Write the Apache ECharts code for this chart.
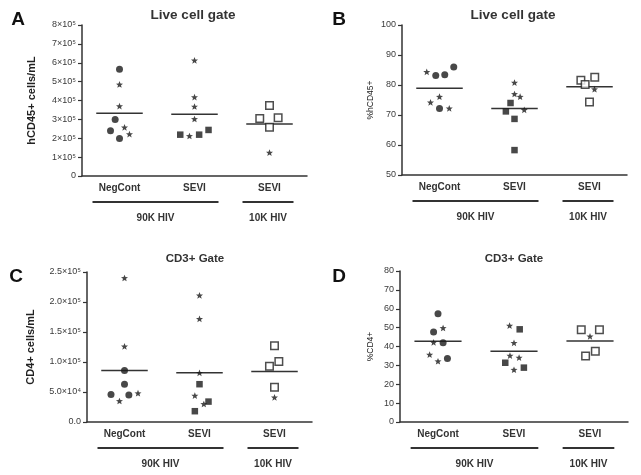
<!DOCTYPE html>
<html><head><meta charset="utf-8">
<script src="https://cdn.jsdelivr.net/npm/echarts@6/dist/echarts.min.js"></script>
<style>html,body{margin:0;padding:0;background:#fff}#c{width:641px;height:475px}</style>
</head><body><div id="c"></div>
<script>
// ---------- data ----------
const categories = ['NegCont', 'SEVI', 'SEVI'];
const groupNames = ['90K HIV', '10K HIV'];
const groupSpans = [[0, 1], [2, 2]];
const panelLetters = ['A', 'B', 'C', 'D'];
const panelTitles = ['Live cell gate', 'Live cell gate', 'CD3+ Gate', 'CD3+ Gate'];
const yNames = ['hCD45+ cells/mL', '%hCD45+', 'CD4+ cells/mL', '%CD4+'];
const yMin = [0, 50, 0, 0];
const yMax = [800000, 100, 250000, 80];
const yStep = [100000, 10, 50000, 10];

// Panel A (points: [category index, value]) + horizontal jitter in category units
const A_circle = [[0, 565000], [0, 300000], [0, 240000], [0, 199000]];
const A_circle_dx = [0, -0.058, -0.12, 0];
const A_star = [[0, 485000], [0, 370000], [0, 258000], [0, 222000], [1, 613000], [1, 418000], [1, 368000], [1, 302000], [1, 212000], [2, 124000]];
const A_star_dx = [0, 0, 0.067, 0.133, 0, 0, 0, 0, -0.067, 0];
const A_square = [[1, 219000], [1, 219000], [1, 244000]];
const A_square_dx = [-0.19, 0.062, 0.187];
const A_open = [[2, 373000], [2, 304000], [2, 308000], [2, 258000]];
const A_open_dx = [0, -0.13, 0.115, 0];
const A_means = [332000, 327000, 276000];

// Panel B
const B_circle = [[0, 83.2], [0, 83.4], [0, 86.0], [0, 72.2]];
const B_circle_dx = [-0.05, 0.07, 0.19, 0];
const B_star = [[0, 84.4], [0, 76.1], [0, 74.2], [0, 72.2], [1, 80.8], [1, 77.0], [1, 76.1], [1, 71.7], [2, 78.6]];
const B_star_dx = [-0.17, 0, -0.12, 0.13, 0, 0, 0.075, 0.13, 0.067];
const B_square = [[1, 74.0], [1, 71.2], [1, 68.7], [1, 58.3]];
const B_square_dx = [-0.053, -0.115, 0, 0];
const B_open = [[2, 81.6], [2, 82.6], [2, 80.2], [2, 74.3]];
const B_open_dx = [-0.115, 0.07, -0.058, 0];
const B_means = [78.9, 72.2, 79.4];

// Panel C
const C_circle = [[0, 86000], [0, 63000], [0, 46000], [0, 45000]];
const C_circle_dx = [0, 0, -0.18, 0.058];
const C_star = [[0, 240000], [0, 126000], [0, 35000], [0, 48000], [1, 211000], [1, 172000], [1, 82000], [1, 44000], [1, 30000], [2, 41000]];
const C_star_dx = [0, 0, -0.067, 0.18, 0, 0, 0, -0.062, 0.058, 0];
const C_square = [[1, 63000], [1, 18000], [1, 34000]];
const C_square_dx = [0, -0.062, 0.12];
const C_open = [[2, 127000], [2, 101000], [2, 93000], [2, 58000]];
const C_open_dx = [0, 0.058, -0.067, 0];
const C_means = [86000, 82000, 84000];

// Panel D
const D_circle = [[0, 57.4], [0, 47.7], [0, 42.0], [0, 33.6]];
const D_circle_dx = [0, -0.058, 0.067, 0.124];
const D_star = [[0, 49.8], [0, 42.2], [0, 35.7], [0, 32.2], [1, 51.1], [1, 41.9], [1, 35.2], [1, 34.1], [1, 27.7], [2, 45.4]];
const D_star_dx = [0.067, -0.058, -0.11, 0, -0.058, 0, -0.053, 0.067, 0, 0];
const D_square = [[1, 49.1], [1, 31.4], [1, 28.8]];
const D_square_dx = [0.075, -0.115, 0.13];
const D_open = [[2, 48.9], [2, 48.9], [2, 37.5], [2, 35.0]];
const D_open_dx = [-0.115, 0.124, 0.07, -0.058];
const D_means = [42.8, 37.5, 42.9];

// ---------- layout / style ----------
const panels = [
  {circle: [A_circle, A_circle_dx], star: [A_star, A_star_dx], square: [A_square, A_square_dx], open: [A_open, A_open_dx], means: A_means},
  {circle: [B_circle, B_circle_dx], star: [B_star, B_star_dx], square: [B_square, B_square_dx], open: [B_open, B_open_dx], means: B_means},
  {circle: [C_circle, C_circle_dx], star: [C_star, C_star_dx], square: [C_square, C_square_dx], open: [C_open, C_open_dx], means: C_means},
  {circle: [D_circle, D_circle_dx], star: [D_star, D_star_dx], square: [D_square, D_square_dx], open: [D_open, D_open_dx], means: D_means}
];
const grids = [
  {left: 82, top: 25, width: 225, height: 151},
  {left: 402, top: 25, width: 225, height: 150},
  {left: 87, top: 272, width: 225, height: 150},
  {left: 400, top: 271, width: 228, height: 151}
];
const nameGaps = [45, 27, 51, 25];
const nameStyles = [
  {fontSize: 11, fontWeight: 'bold'}, {fontSize: 8.5, fontWeight: 'normal'},
  {fontSize: 11, fontWeight: 'bold'}, {fontSize: 8.5, fontWeight: 'normal'}
];
const letterPos = [[18, 20], [339, 20], [16, 277], [339, 277]];
const titlePos = [[193, 15], [513, 15], [195, 259], [514, 259]];
const titleFont = ['bold 13.5px Arial, "Liberation Sans", sans-serif', 'bold 13.5px Arial, "Liberation Sans", sans-serif',
  'bold 11.5px Arial, "Liberation Sans", sans-serif', 'bold 11.5px Arial, "Liberation Sans", sans-serif'];
const STAR = 'path://M0,-10 L2.6,-3.4 L9.5,-3.1 L4.1,1.3 L5.9,8.1 L0,4.3 L-5.9,8.1 L-4.1,1.3 L-9.5,-3.1 L-2.6,-3.4 Z';
const INK = '#1a1a1a';
const AX = '#333';
const FONT = 'Arial, "Liberation Sans", sans-serif';

function jit(pair) { const [arr, dx] = pair; return arr.map((p, i) => [p[0] + dx[i], p[1]]); }

function tickFmt(pi) {
  return function (v) {
    if (pi === 0) return v === 0 ? '0' : (v / 1e5) + '×10⁵';
    if (pi === 2) {
      if (v === 0) return '0.0';
      if (v >= 1e5) return (v / 1e5).toFixed(1) + '×10⁵';
      return (v / 1e4).toFixed(1) + '×10⁴';
    }
    return String(v);
  };
}

const xAxis = [], yAxis = [], series = [];
panels.forEach((p, i) => {
  xAxis.push({
    type: 'category', gridIndex: i, data: categories, boundaryGap: true, position: 'bottom',
    axisLine: {onZero: false, lineStyle: {color: AX, width: 1.5}},
    axisTick: {alignWithLabel: true, length: 4, lineStyle: {color: AX, width: 1.2}},
    axisLabel: {fontSize: 10, fontWeight: 'bold', color: '#333', margin: 7, fontFamily: FONT,
      formatter: (v, idx) => categories[idx]},
    splitLine: {show: false}
  });
  xAxis.push({type: 'value', gridIndex: i, min: -0.5, max: 2.5, show: false, position: 'bottom',
    axisLine: {onZero: false}, splitLine: {show: false}});
  yAxis.push({
    type: 'value', gridIndex: i, min: yMin[i], max: yMax[i], interval: yStep[i], position: 'left',
    name: yNames[i], nameLocation: 'middle', nameGap: nameGaps[i],
    nameTextStyle: Object.assign({color: '#222', fontFamily: FONT}, nameStyles[i]),
    axisLine: {show: true, onZero: false, lineStyle: {color: AX, width: 1.5}},
    axisTick: {show: true, length: 4, lineStyle: {color: AX, width: 1.2}},
    axisLabel: {fontSize: 9, color: '#3a3a3a', margin: 6, fontFamily: FONT, formatter: tickFmt(i)},
    splitLine: {show: false}
  });
  const xi = 2 * i + 1;
  series.push({type: 'custom', coordinateSystem: 'cartesian2d', xAxisIndex: xi, yAxisIndex: i,
    data: p.means.map((m, c) => [c, m]), z: 1,
    renderItem: function (params, api) {
      const c = api.value(0), m = api.value(1);
      const p1 = api.coord([c - 0.31, m]), p2 = api.coord([c + 0.31, m]);
      return {type: 'line', shape: {x1: p1[0], y1: p1[1], x2: p2[0], y2: p2[1]},
        style: {stroke: '#333', lineWidth: 1.5}};
    }
  });
  series.push({type: 'scatter', xAxisIndex: xi, yAxisIndex: i, data: jit(p.circle),
    symbol: 'circle', symbolSize: 7, itemStyle: {color: INK}, z: 3, silent: true});
  series.push({type: 'scatter', xAxisIndex: xi, yAxisIndex: i, data: jit(p.star),
    symbol: STAR, symbolKeepAspect: true, symbolSize: 7, itemStyle: {color: INK}, z: 3, silent: true});
  series.push({type: 'scatter', xAxisIndex: xi, yAxisIndex: i, data: jit(p.square),
    symbol: 'rect', symbolSize: 6.5, itemStyle: {color: INK}, z: 3, silent: true});
  series.push({type: 'scatter', xAxisIndex: xi, yAxisIndex: i, data: jit(p.open),
    symbol: 'rect', symbolSize: 7.5, itemStyle: {color: '#fff', borderColor: '#222', borderWidth: 1.5}, z: 3, silent: true});
});

const chart = echarts.init(document.getElementById('c'), null, {renderer: 'canvas'});
chart.setOption({
  backgroundColor: '#fff', animation: false,
  grid: grids, xAxis: xAxis, yAxis: yAxis, series: series
});

// annotations: letters, titles, and group bars placed via the axes' own scales
const g = [];
panels.forEach((p, i) => {
  g.push({type: 'text', style: {text: panelLetters[i], x: letterPos[i][0], y: letterPos[i][1],
    textAlign: 'center', textVerticalAlign: 'middle', font: 'bold 19px Arial, "Liberation Sans", sans-serif', fill: '#111'}});
  g.push({type: 'text', style: {text: panelTitles[i], x: titlePos[i][0], y: titlePos[i][1],
    textAlign: 'center', textVerticalAlign: 'middle', font: titleFont[i], fill: '#333'}});
  const yBottom = chart.convertToPixel({yAxisIndex: i}, yMin[i]);
  groupSpans.forEach((span, k) => {
    const x1 = chart.convertToPixel({xAxisIndex: 2 * i + 1}, span[0] - 0.36);
    const x2 = chart.convertToPixel({xAxisIndex: 2 * i + 1}, span[1] + 0.32);
    const yl = yBottom + 26;
    g.push({type: 'line', shape: {x1: x1, y1: yl, x2: x2, y2: yl}, style: {stroke: '#333', lineWidth: 2.2}});
    g.push({type: 'text', style: {text: groupNames[k], x: (x1 + x2) / 2, y: yBottom + 42,
      textAlign: 'center', textVerticalAlign: 'middle', font: 'bold 10px Arial, "Liberation Sans", sans-serif', fill: '#333'}});
  });
});
chart.setOption({graphic: {elements: g}});
</script></body></html>
